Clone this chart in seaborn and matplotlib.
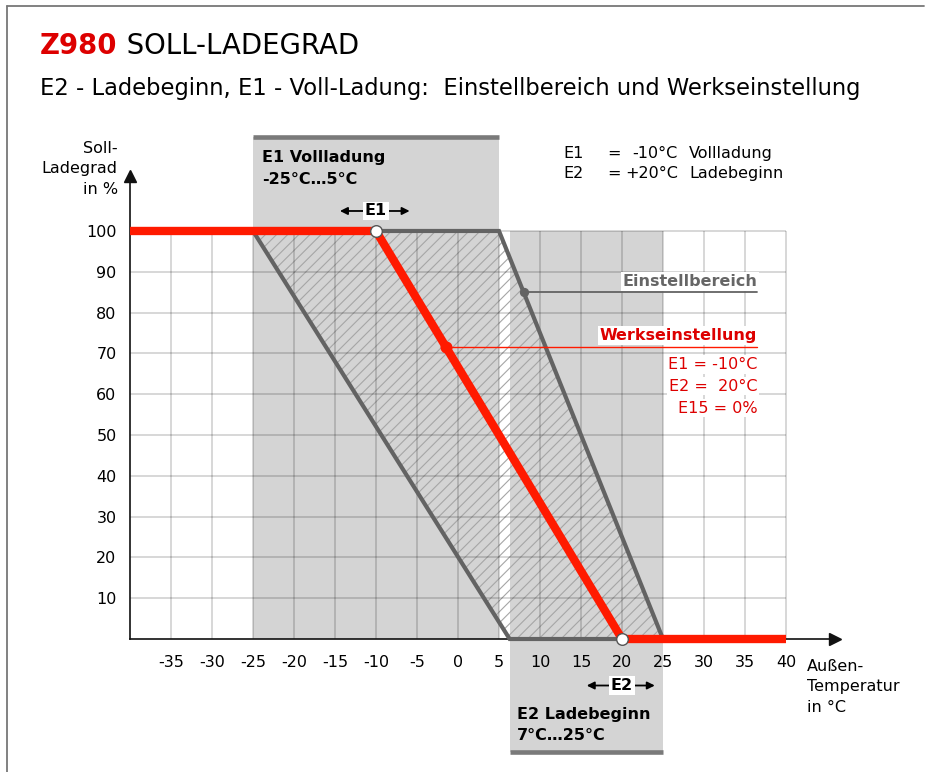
import matplotlib.pyplot as plt
import seaborn as sns
from matplotlib.lines import Line2D

sns.set_style("white")
plt.rcParams['font.family'] = ['DejaVu Sans']
plt.rcParams['hatch.linewidth'] = 0.8
plt.rcParams['axes.unicode_minus'] = False
plt.rcParams['text.color'] = 'black'
plt.rcParams['xtick.labelcolor'] = 'black'
plt.rcParams['ytick.labelcolor'] = 'black'

# axis ticks
temp_ticks = [-35, -30, -25, -20, -15, -10, -5, 0, 5, 10, 15, 20, 25, 30, 35, 40]
pct_ticks = [10, 20, 30, 40, 50, 60, 70, 80, 90, 100]

# factory setting (E1 = -10 C, E2 = 20 C, E15 = 0 %)
werk_temp = [-40, -10, 20, 40]
werk_pct = [100, 100, 0, 0]
e1_set, e2_set = -10, 20

# adjustable range (parallelogram)
bereich_temp = [-25, 5, 25, 6.3, -25]
bereich_pct = [100, 100, 0, 0, 100]

# grey boxes for the E1 / E2 ranges
e1_range = [-25, 5]
e2_range = [6.3, 25]
e1_top = 123
e2_bottom = -27.7

RED = "#ff1a00"
TXT_RED = "#dd0000"
DARK = "#636363"
BOX = "#d4d4d4"
FS = 11.5

fig = plt.figure(figsize=(9.25, 7.72), dpi=100)
# x: -40..46 -> 130..835 px, y: 0..113.5 -> 639..172 px
ax = fig.add_axes([130 / 925, 133 / 772, 705.2 / 925, 463.1 / 772])
ax.set_xlim(-40, 46)
ax.set_ylim(0, 113.5)

# grey range boxes
ax.fill_between(e1_range, 0, e1_top, color=BOX, lw=0, zorder=0.5, clip_on=False)
ax.fill_between(e2_range, e2_bottom, 100, color=BOX, lw=0, zorder=0.5, clip_on=False)
ax.plot(e1_range, [e1_top, e1_top], color="#7a7a7a", lw=3.3, solid_capstyle="butt", clip_on=False)
ax.plot(e2_range, [e2_bottom, e2_bottom], color="#7a7a7a", lw=3.3, solid_capstyle="butt", clip_on=False)

# hatched adjustable range
ax.fill(bereich_temp, bereich_pct, facecolor="none", edgecolor="#a6a6a6", hatch="///", lw=0, zorder=0.8)

# grid only inside the chart field
ax.vlines(temp_ticks, 0, 100, colors="k", alpha=0.2, lw=1.1, zorder=1)
ax.hlines(pct_ticks, -40, 40, colors="k", alpha=0.2, lw=1.1, zorder=1)

# outline of range and factory curve
sns.lineplot(x=bereich_temp, y=bereich_pct, estimator=None, sort=False, color=DARK,
             linewidth=3, ax=ax, zorder=3, clip_on=False, solid_joinstyle="miter")
sns.lineplot(x=werk_temp, y=werk_pct, estimator=None, sort=False, color=RED,
             linewidth=6, ax=ax, zorder=4, clip_on=False, solid_capstyle="butt",
             solid_joinstyle="miter")
sns.scatterplot(x=[e1_set, e2_set], y=[100, 0], color="white", edgecolor="#555555",
                linewidth=1, s=70, ax=ax, zorder=5, clip_on=False)

# axes
for s in ["top", "right"]:
    ax.spines[s].set_visible(False)
for s in ["left", "bottom"]:
    ax.spines[s].set_color("#111111")
    ax.spines[s].set_linewidth(1.2)
ax.plot(1, 0, ">", color="#111111", ms=8, transform=ax.get_yaxis_transform(), clip_on=False)
ax.plot(0, 1, "^", color="#111111", ms=8, transform=ax.transAxes, clip_on=False)
ax.set_xticks(temp_ticks)
ax.set_yticks(pct_ticks)
ax.tick_params(axis="both", length=7.2, width=1.1, color="#aaaaaa", labelsize=FS, direction="out")
ax.tick_params(axis="y", pad=2.5)
ax.tick_params(axis="x", pad=4.5)

# labels of axes
ax.text(-41.5, 115.2, "Soll-\nLadegrad\nin %", ha="right", va="center", ma="right",
        fontsize=FS, linespacing=1.47)
ax.text(42.6, -11.7, "Außen-\nTemperatur\nin °C", ha="left", va="center", ma="left",
        fontsize=FS, linespacing=1.47)

# E1 / E2 range labels
bold = dict(fontsize=FS, fontweight="bold")
ax.text(-23.9, 117.9, "E1 Vollladung", ha="left", va="center", **bold)
ax.text(-23.9, 112.5, "-25°C…5°C", ha="left", va="center", **bold)
ax.text(7.2, -18.4, "E2 Ladebeginn", ha="left", va="center", **bold)
ax.text(7.2, -23.7, "7°C…25°C", ha="left", va="center", **bold)

wbox = dict(boxstyle="square,pad=0.12", fc="white", ec="none")
arrow = dict(arrowstyle="-|>", color="k", lw=1.3, mutation_scale=11, shrinkA=0, shrinkB=0)
for xc, yc, x0, x1, lab in [(e1_set, 104.9, -14.4, -5.9, "E1"), (e2_set, -11.4, 15.7, 24, "E2")]:
    ax.annotate("", xy=(x0, yc), xytext=(xc, yc), arrowprops=arrow, annotation_clip=False)
    ax.annotate("", xy=(x1, yc), xytext=(xc, yc), arrowprops=arrow, annotation_clip=False)
    ax.text(xc, yc, lab, ha="center", va="center", bbox=wbox, zorder=6, **bold)

# top right legend
for yy, name, val, desc in [(119.1, "E1", "-10°C", "Vollladung"), (114.2, "E2", "+20°C", "Ladebeginn")]:
    ax.text(12.8, yy, name, ha="left", va="center", fontsize=FS)
    ax.text(18.2, yy, "=", ha="left", va="center", fontsize=FS)
    ax.text(26.8, yy, val, ha="right", va="center", fontsize=FS)
    ax.text(28.2, yy, desc, ha="left", va="center", fontsize=FS)

# Einstellbereich callout
ax.plot([8, 36.5], [85, 85], color=DARK, lw=1.3, zorder=2)
sns.scatterplot(x=[8], y=[85], color=DARK, s=45, linewidth=0, ax=ax, zorder=5)
ax.text(36.5, 87.6, "Einstellbereich", ha="right", va="center", color="#666666",
        bbox=wbox, zorder=6, **bold)

# Werkseinstellung callout
werk_dot_x = -1.5
werk_dot_y = 100 - (werk_dot_x - e1_set) * 100 / (e2_set - e1_set)
ax.plot([werk_dot_x, 36.5], [werk_dot_y, werk_dot_y], color=RED, lw=1, zorder=4)
sns.scatterplot(x=[werk_dot_x], y=[werk_dot_y], color=RED, s=75, linewidth=0, ax=ax, zorder=5)
ax.text(36.5, 74.4, "Werkseinstellung", ha="right", va="center", color=TXT_RED,
        bbox=wbox, zorder=6, **bold)
for yy, t in [(67.2, "E1 = -10°C"), (62.0, "E2 =  20°C"), (56.6, "E15 = 0%")]:
    ax.text(36.5, yy, t, ha="right", va="center", color=TXT_RED, fontsize=FS,
            bbox=wbox, zorder=6)

# title
t1 = fig.text(40 / 925, 1 - 46 / 772, "Z980", color=TXT_RED, fontsize=19.8,
              fontweight="bold", va="center", ha="left")
ax.annotate(" SOLL-LADEGRAD", xy=(1, 0), xycoords=t1, va="bottom", ha="left",
            fontsize=19.8, color="black")
fig.text(40 / 925, 1 - 88 / 772,
         "E2 - Ladebeginn, E1 - Voll-Ladung:  Einstellbereich und Werkseinstellung",
         fontsize=16.3, va="center", ha="left")

# frame lines
fig.add_artist(Line2D([7 / 925, 924 / 925], [1 - 6 / 772, 1 - 6 / 772], color="#777777", lw=1.3))
fig.add_artist(Line2D([7 / 925, 7 / 925], [0, 1 - 6 / 772], color="#777777", lw=1.3))

fig.savefig("out.png", dpi=100)
